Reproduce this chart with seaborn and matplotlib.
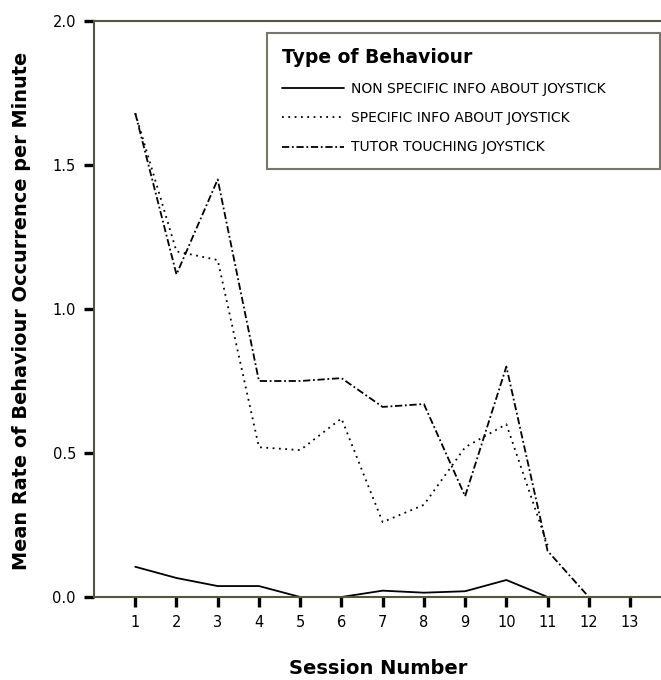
import numpy as np
import pandas as pd
import matplotlib
matplotlib.use("Agg")
import matplotlib.pyplot as plt
import seaborn as sns

sessions_nonspec = [1, 2, 3, 4, 5, 6, 7, 8, 9, 10, 11]
nonspec = [0.105, 0.066, 0.038, 0.038, 0.0, 0.0, 0.022, 0.015, 0.02, 0.059, 0.0]

sessions_spec = [1, 2, 3, 4, 5, 6, 7, 8, 9, 10, 11]
spec = [1.68, 1.20, 1.17, 0.52, 0.51, 0.62, 0.26, 0.32, 0.52, 0.60, 0.18]

sessions_tutor = [1, 2, 3, 4, 5, 6, 7, 8, 9, 10, 11, 12]
tutor = [1.68, 1.12, 1.45, 0.75, 0.75, 0.76, 0.66, 0.67, 0.35, 0.80, 0.16, 0.0]

labels = ["NON SPECIFIC INFO ABOUT JOYSTICK",
          "SPECIFIC INFO ABOUT JOYSTICK",
          "TUTOR TOUCHING JOYSTICK"]
xticks = list(range(1, 14))
yticks = [0.0, 0.5, 1.0, 1.5, 2.0]

df = pd.concat([
    pd.DataFrame({"session": sessions_nonspec, "rate": nonspec, "behaviour": labels[0]}),
    pd.DataFrame({"session": sessions_spec, "rate": spec, "behaviour": labels[1]}),
    pd.DataFrame({"session": sessions_tutor, "rate": tutor, "behaviour": labels[2]}),
], ignore_index=True)

sns.set_style("white")
plt.rcParams['font.family'] = ['DejaVu Sans']
plt.rcParams['text.color'] = 'black'
plt.rcParams['xtick.color'] = 'black'
plt.rcParams['ytick.color'] = 'black'
plt.rcParams['axes.labelcolor'] = 'black'

fig = plt.figure(figsize=(6.61, 6.80), dpi=100)
ax = fig.add_axes([94/661, 83/680, (661-94)/661, 576/680])

dashes = {labels[0]: "", labels[1]: (1, 2.5), labels[2]: (4, 1.5, 1, 1.5)}
sns.lineplot(data=df, x="session", y="rate", style="behaviour", dashes=dashes,
             color="black", linewidth=1.3, ax=ax, legend=True, estimator=None)

ax.set_xlim(0, 13.75)
ax.set_ylim(0, 2.0)
ax.set_xticks(xticks)
ax.set_xticklabels([str(t) for t in xticks], fontsize=10.5)
ax.set_yticks(yticks)
ax.set_yticklabels([f"{t:.1f}" for t in yticks], fontsize=10.5)
ax.tick_params(axis="both", which="major", bottom=True, left=True,
               direction="out", length=7, width=2.4, color="black",
               labelcolor="black", pad=6)
ax.set_xlabel("")
ax.set_ylabel("")

for side in ["left", "bottom", "top"]:
    ax.spines[side].set_visible(True)
    ax.spines[side].set_color("#555544")
    ax.spines[side].set_linewidth(1.5)
ax.spines["right"].set_visible(False)

fig.text(22/661, 1 - 311/680, "Mean Rate of Behaviour Occurrence per Minute",
         rotation=90, ha="center", va="center", fontsize=13.9, fontweight="bold",
         color="black")
fig.text(378/661, 1 - 669/680, "Session Number", ha="center", va="center",
         fontsize=14, fontweight="bold", color="black")

handles, lbls = ax.get_legend_handles_labels()
x0 = (267 - 94) / 567
w = (660 - 267) / 567
ytop = (597 - 33) / 576
leg = ax.legend(handles, lbls, loc="upper left",
                bbox_to_anchor=(x0, ytop - 0.3, w, 0.3), mode="expand",
                title="Type of Behaviour",
                title_fontproperties={"weight": "bold", "size": 13.5},
                fontsize=10, frameon=True, fancybox=False,
                edgecolor="#555544", handlelength=4.5, handletextpad=0.5,
                borderpad=1.05, labelspacing=1.1, borderaxespad=0)
leg._legend_box.align = "left"
leg.get_frame().set_linewidth(1.5)
for t in leg.get_texts():
    t.set_color("black")
leg.get_title().set_color("black")

fig.savefig("out.png", dpi=100)
